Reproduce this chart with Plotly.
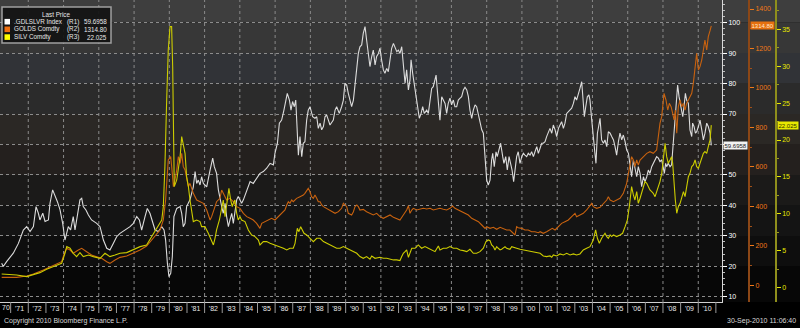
import plotly.graph_objects as go
import pandas as pd

# ---------------- data ----------------
SERIES_NAMES = [".GDLSLVR Index", "GOLDS Comdty", "SILV Comdty"]
SERIES_AXES = ["(R1)", "(R2)", "(R3)"]
LAST_PRICES = ["59.6958", "1314.80", "22.025"]
LEGEND_TITLE = "Last Price"

# (decimal year, value)
RATIO = [
    (1970.49, 21.0), (1970.58, 19.9), (1970.77, 21.5), (1971.15, 24.3), (1971.44, 27.5), (1971.72, 31.9), (1971.91, 33.0),
    (1972.10, 31.4), (1972.29, 33.0), (1972.44, 39.6), (1972.57, 37.4), (1972.66, 35.2), (1972.82, 37.4), (1972.95, 34.7),
    (1973.14, 35.2), (1973.23, 40.7), (1973.38, 45.1), (1973.51, 43.4), (1973.65, 41.2), (1973.80, 38.5), (1973.95, 34.1),
    (1974.08, 28.6), (1974.18, 30.8), (1974.27, 33.0), (1974.40, 31.9), (1974.55, 36.3), (1974.65, 31.9), (1974.78, 36.3), (1974.93, 41.8),
    (1975.03, 42.3), (1975.12, 39.6), (1975.27, 38.5), (1975.41, 36.8), (1975.59, 35.2), (1975.88, 34.1),
    (1976.07, 33.0), (1976.26, 28.6), (1976.45, 25.9), (1976.63, 25.3), (1976.82, 27.5),
    (1977.01, 29.7), (1977.20, 30.8), (1977.49, 31.9), (1977.77, 33.0), (1977.96, 34.1),
    (1978.15, 36.3), (1978.30, 35.2), (1978.43, 31.9), (1978.62, 36.3), (1978.75, 39.0), (1978.90, 37.4),
    (1979.05, 34.1), (1979.19, 31.9), (1979.38, 31.4), (1979.57, 33.0), (1979.70, 31.9), (1979.79, 28.6), (1979.89, 21.0), (1979.98, 16.6),
    (1980.08, 17.7), (1980.17, 23.2), (1980.26, 36.3), (1980.42, 39.0), (1980.61, 39.6), (1980.70, 37.4), (1980.79, 33.0), (1980.89, 34.1), (1980.98, 39.6),
    (1981.17, 41.8), (1981.36, 46.1), (1981.46, 51.1), (1981.55, 47.2), (1981.64, 48.3), (1981.74, 46.7), (1981.83, 49.4), (1981.93, 47.2),
    (1982.12, 46.1), (1982.31, 51.6), (1982.46, 55.5), (1982.55, 52.7), (1982.68, 50.5), (1982.78, 45.1), (1982.87, 41.8), (1982.97, 39.6),
    (1983.06, 37.4), (1983.16, 40.7), (1983.25, 36.3), (1983.35, 33.0), (1983.44, 35.2), (1983.54, 37.4), (1983.63, 34.1), (1983.72, 37.4), (1983.82, 41.8), (1983.91, 42.9),
    (1984.01, 41.8), (1984.10, 40.7), (1984.20, 41.8), (1984.39, 45.1), (1984.58, 47.8), (1984.76, 47.2), (1984.95, 48.9),
    (1985.14, 50.5), (1985.33, 51.1), (1985.52, 52.2), (1985.71, 53.8), (1985.90, 53.3), (1985.99, 57.1),
    (1986.13, 60.4), (1986.24, 67.0), (1986.37, 68.0), (1986.50, 71.3), (1986.62, 74.6), (1986.69, 76.8), (1986.81, 74.6), (1986.90, 71.3), (1986.99, 74.1),
    (1987.09, 72.4), (1987.17, 74.6), (1987.26, 63.7), (1987.32, 56.5), (1987.41, 62.6), (1987.51, 56.0), (1987.60, 60.4), (1987.69, 60.9), (1987.79, 68.0), (1987.88, 71.3), (1987.98, 72.4),
    (1988.13, 69.1), (1988.26, 68.6), (1988.36, 69.1), (1988.45, 65.3), (1988.55, 67.0), (1988.64, 64.8), (1988.74, 65.9), (1988.83, 69.1), (1988.92, 69.7),
    (1989.02, 68.0), (1989.11, 66.4), (1989.30, 68.0), (1989.40, 71.3), (1989.49, 72.4), (1989.64, 70.2), (1989.77, 72.4), (1989.87, 74.6), (1989.96, 80.1),
    (1990.06, 79.5), (1990.15, 76.8), (1990.25, 74.6), (1990.34, 72.4), (1990.44, 74.6), (1990.53, 80.1), (1990.63, 85.6), (1990.72, 89.9), (1990.81, 92.1), (1990.91, 92.7),
    (1991.00, 96.5), (1991.10, 98.7), (1991.19, 94.3), (1991.29, 89.9), (1991.38, 85.6), (1991.48, 88.9), (1991.57, 91.0), (1991.67, 86.1), (1991.76, 88.9), (1991.86, 89.9), (1991.95, 91.6),
    (1992.04, 87.8), (1992.14, 84.5), (1992.23, 83.4), (1992.33, 85.0), (1992.42, 83.9), (1992.52, 88.9), (1992.61, 91.6), (1992.71, 93.2), (1992.80, 92.1), (1992.90, 90.5), (1992.99, 91.0),
    (1993.08, 89.9), (1993.18, 92.1), (1993.27, 85.6), (1993.37, 80.1), (1993.46, 84.5), (1993.56, 77.9), (1993.65, 81.2), (1993.71, 87.8), (1993.80, 83.4), (1993.88, 80.1), (1993.97, 75.7),
    (1994.07, 72.4), (1994.18, 68.6), (1994.28, 70.2), (1994.37, 72.4), (1994.46, 70.2), (1994.60, 71.3), (1994.69, 70.2), (1994.79, 75.7), (1994.88, 78.4), (1994.97, 79.0),
    (1995.07, 81.2), (1995.13, 82.8), (1995.20, 77.9), (1995.28, 72.4), (1995.35, 68.0), (1995.45, 75.7), (1995.54, 74.6), (1995.64, 73.5), (1995.73, 70.2), (1995.82, 73.5), (1995.92, 75.2),
    (1996.01, 73.0), (1996.11, 74.6), (1996.20, 72.4), (1996.30, 72.4), (1996.39, 74.6), (1996.49, 75.2), (1996.58, 75.7), (1996.68, 77.9), (1996.77, 78.8), (1996.87, 77.9), (1996.96, 75.7),
    (1997.05, 71.3), (1997.15, 68.6), (1997.24, 71.3), (1997.34, 73.0), (1997.43, 72.4), (1997.53, 69.7), (1997.62, 68.0), (1997.72, 64.8), (1997.81, 63.7), (1997.91, 56.0),
    (1998.00, 48.3), (1998.09, 46.7), (1998.19, 48.3), (1998.28, 54.9), (1998.34, 57.1), (1998.43, 52.7), (1998.53, 57.6), (1998.60, 56.0), (1998.72, 59.3), (1998.79, 60.4), (1998.91, 56.0), (1998.98, 53.8),
    (1999.08, 56.0), (1999.17, 51.6), (1999.27, 56.0), (1999.36, 53.8), (1999.44, 51.6), (1999.53, 47.8), (1999.61, 51.6), (1999.70, 56.0), (1999.79, 57.6), (1999.89, 53.8), (1999.99, 56.0),
    (2000.08, 57.1), (2000.17, 56.5), (2000.27, 56.0), (2000.36, 57.1), (2000.46, 56.5), (2000.55, 57.6), (2000.65, 56.0), (2000.74, 57.6), (2000.84, 59.3), (2000.93, 57.1),
    (2001.03, 59.3), (2001.12, 60.4), (2001.21, 60.4), (2001.31, 60.9), (2001.40, 62.6), (2001.50, 64.2), (2001.59, 65.3), (2001.69, 63.7), (2001.78, 66.4), (2001.88, 64.8), (2001.97, 62.6),
    (2002.07, 65.3), (2002.16, 66.4), (2002.25, 67.5), (2002.35, 65.3), (2002.44, 67.0), (2002.54, 70.2), (2002.63, 70.8), (2002.73, 71.3), (2002.82, 71.9), (2002.92, 73.5),
    (2003.01, 75.7), (2003.10, 74.6), (2003.20, 76.3), (2003.29, 78.4), (2003.39, 80.6), (2003.48, 74.6), (2003.54, 69.1), (2003.62, 72.4), (2003.71, 75.7), (2003.80, 76.3), (2003.86, 74.6), (2003.96, 68.0),
    (2004.05, 61.5), (2004.14, 57.1), (2004.20, 53.8), (2004.28, 63.7), (2004.35, 65.9), (2004.43, 68.6), (2004.52, 61.5), (2004.62, 60.4), (2004.71, 61.5), (2004.81, 59.3), (2004.90, 64.2),
    (2005.00, 63.7), (2005.09, 62.6), (2005.19, 61.5), (2005.28, 59.3), (2005.37, 56.5), (2005.47, 60.9), (2005.56, 63.7), (2005.66, 61.5), (2005.75, 63.1), (2005.85, 60.9), (2005.94, 58.2),
    (2006.04, 57.1), (2006.13, 53.8), (2006.22, 49.4), (2006.32, 54.9), (2006.41, 52.7), (2006.51, 49.4), (2006.60, 52.7), (2006.70, 50.5), (2006.79, 46.1), (2006.89, 49.4), (2006.98, 47.8),
    (2007.08, 49.4), (2007.17, 51.6), (2007.26, 50.5), (2007.36, 52.7), (2007.45, 53.8), (2007.55, 54.9), (2007.64, 56.0), (2007.74, 55.5), (2007.83, 54.4), (2007.93, 54.9),
    (2008.02, 51.6), (2008.08, 50.5), (2008.15, 53.8), (2008.21, 52.7), (2008.30, 53.8), (2008.40, 52.7), (2008.49, 53.3), (2008.59, 60.4), (2008.68, 68.0), (2008.78, 76.8), (2008.83, 79.5), (2008.91, 75.7), (2008.97, 73.5),
    (2009.06, 71.3), (2009.12, 69.1), (2009.19, 72.4), (2009.27, 76.8), (2009.34, 74.6), (2009.44, 73.5), (2009.53, 64.8), (2009.63, 62.6), (2009.68, 67.0), (2009.76, 65.9), (2009.84, 63.7), (2009.91, 64.2),
    (2010.01, 65.9), (2010.10, 68.0), (2010.20, 64.8), (2010.29, 61.5), (2010.38, 63.7), (2010.48, 67.0), (2010.57, 65.9), (2010.67, 63.7), (2010.74, 59.6958),
]

GOLD = [
    (1970.49, 40.4), (1971.34, 40.4), (1971.91, 47.1), (1972.29, 57.2), (1972.85, 77.5), (1973.23, 94.4), (1973.61, 111.3), (1973.89, 119.7),
    (1974.08, 170.4), (1974.18, 187.3), (1974.37, 178.9), (1974.55, 162.0), (1974.84, 178.9), (1975.03, 187.3), (1975.31, 170.4), (1975.59, 153.5), (1975.88, 145.1),
    (1976.16, 136.6), (1976.45, 119.7), (1976.63, 111.3), (1976.92, 128.2), (1977.20, 141.7), (1977.58, 148.4), (1977.96, 162.0), (1978.34, 178.9), (1978.71, 199.1),
    (1979.00, 229.5), (1979.28, 263.3), (1979.47, 280.2), (1979.66, 330.9), (1979.79, 432.2), (1979.94, 634.9), (1980.08, 651.8), (1980.17, 567.3), (1980.23, 499.8), (1980.32, 533.5), (1980.42, 584.2), (1980.51, 651.8),
    (1980.61, 618.0), (1980.70, 668.7), (1980.79, 601.1), (1980.89, 584.2), (1980.98, 533.5), (1981.08, 499.8), (1981.17, 516.7), (1981.36, 466.0), (1981.55, 432.2), (1981.74, 423.7), (1981.93, 415.3),
    (1982.12, 381.5), (1982.31, 330.9), (1982.40, 347.8), (1982.50, 381.5), (1982.59, 398.4), (1982.68, 423.7), (1982.87, 440.6), (1982.97, 482.9),
    (1983.06, 466.0), (1983.25, 432.2), (1983.44, 440.6), (1983.63, 423.7), (1983.82, 398.4), (1984.01, 390.0), (1984.20, 364.6), (1984.39, 347.8), (1984.58, 339.3), (1984.76, 330.9), (1984.95, 314.0),
    (1985.14, 288.6), (1985.24, 314.0), (1985.43, 322.4), (1985.61, 330.9), (1985.80, 339.3), (1985.99, 330.9), (1986.18, 347.8), (1986.37, 364.6), (1986.56, 381.5), (1986.66, 406.9), (1986.75, 423.7), (1986.84, 415.3), (1986.94, 432.2),
    (1987.03, 423.7), (1987.22, 440.6), (1987.41, 449.0), (1987.60, 457.5), (1987.69, 466.0), (1987.79, 482.9), (1987.88, 491.3), (1987.98, 474.4),
    (1988.07, 449.0), (1988.17, 440.6), (1988.26, 457.5), (1988.36, 440.6), (1988.45, 423.7), (1988.55, 423.7), (1988.64, 406.9), (1988.74, 398.4), (1988.92, 390.0),
    (1989.11, 381.5), (1989.21, 373.1), (1989.40, 364.6), (1989.59, 373.1), (1989.77, 390.0), (1989.87, 415.3), (1989.96, 406.9),
    (1990.06, 398.4), (1990.15, 364.6), (1990.34, 356.2), (1990.44, 373.1), (1990.53, 398.4), (1990.63, 406.9), (1990.72, 398.4), (1990.81, 381.5),
    (1991.00, 384.9), (1991.19, 373.1), (1991.38, 364.6), (1991.57, 356.2), (1991.76, 364.6), (1991.95, 347.8),
    (1992.14, 339.3), (1992.33, 347.8), (1992.52, 356.2), (1992.71, 344.4), (1992.90, 339.3),
    (1993.08, 330.9), (1993.27, 356.2), (1993.46, 381.5), (1993.56, 403.5), (1993.65, 364.6), (1993.75, 381.5), (1993.84, 390.0),
    (1994.03, 381.5), (1994.22, 384.9), (1994.41, 390.0), (1994.60, 386.6), (1994.79, 390.0), (1994.97, 381.5),
    (1995.16, 384.9), (1995.35, 390.0), (1995.54, 384.9), (1995.73, 381.5), (1995.92, 390.0),
    (1996.07, 401.8), (1996.20, 390.0), (1996.39, 381.5), (1996.58, 373.1), (1996.77, 364.6), (1996.96, 356.2),
    (1997.15, 339.3), (1997.34, 330.9), (1997.53, 322.4), (1997.72, 305.5), (1997.91, 288.6),
    (1998.00, 297.1), (1998.19, 288.6), (1998.38, 293.7), (1998.57, 283.6), (1998.76, 293.7), (1998.95, 288.6),
    (1999.13, 280.2), (1999.32, 280.2), (1999.51, 263.3), (1999.61, 254.9), (1999.70, 297.1), (1999.79, 292.0), (1999.99, 288.6),
    (2000.17, 280.2), (2000.36, 280.2), (2000.55, 271.7), (2000.74, 271.7), (2000.93, 266.7),
    (2001.03, 271.7), (2001.21, 263.3), (2001.40, 271.7), (2001.59, 280.2), (2001.72, 288.6), (2001.88, 280.2),
    (2002.07, 297.1), (2002.25, 314.0), (2002.44, 322.4), (2002.63, 330.9), (2002.82, 347.8),
    (2003.01, 364.6), (2003.10, 347.8), (2003.29, 356.2), (2003.48, 364.6), (2003.67, 381.5), (2003.86, 401.8), (2003.96, 415.3),
    (2004.05, 398.4), (2004.24, 390.0), (2004.43, 395.0), (2004.62, 415.3), (2004.81, 432.2), (2004.90, 449.0),
    (2005.00, 432.2), (2005.19, 423.7), (2005.37, 432.2), (2005.56, 440.6), (2005.75, 466.0), (2005.85, 499.8), (2005.94, 516.7),
    (2006.04, 567.3), (2006.13, 618.0), (2006.22, 651.8), (2006.32, 634.9), (2006.41, 601.1), (2006.51, 634.9), (2006.60, 609.5), (2006.70, 634.9), (2006.79, 643.3), (2006.89, 651.8),
    (2007.08, 668.7), (2007.26, 677.1), (2007.45, 668.7), (2007.64, 685.6), (2007.74, 770.0), (2007.83, 820.7), (2007.93, 854.5),
    (2008.06, 972.7), (2008.17, 938.9), (2008.27, 888.2), (2008.36, 922.0), (2008.46, 905.1), (2008.55, 871.3), (2008.63, 837.6), (2008.70, 888.2), (2008.78, 770.0), (2008.87, 905.1), (2008.97, 938.9),
    (2009.06, 905.1), (2009.16, 922.0), (2009.25, 888.2), (2009.34, 922.0), (2009.44, 938.9), (2009.53, 955.8), (2009.63, 972.7), (2009.72, 1023.4), (2009.82, 1107.8), (2009.91, 1175.4),
    (2010.01, 1090.9), (2010.10, 1107.8), (2010.20, 1141.6), (2010.29, 1192.3), (2010.38, 1242.9), (2010.48, 1192.3), (2010.57, 1259.8), (2010.67, 1290.0), (2010.74, 1314.80),
]

SILVER = [
    (1970.49, 1.86), (1971.34, 1.72), (1971.91, 1.50), (1972.29, 1.72), (1972.66, 2.04), (1973.04, 2.49), (1973.42, 2.85), (1973.89, 3.30),
    (1974.08, 4.66), (1974.18, 5.56), (1974.37, 5.34), (1974.55, 4.66), (1974.74, 4.21), (1974.93, 4.75), (1975.12, 4.21), (1975.41, 4.43), (1975.69, 4.21),
    (1976.07, 3.98), (1976.35, 4.66), (1976.63, 4.21), (1976.92, 4.43), (1977.20, 4.66), (1977.58, 4.75), (1977.96, 5.11), (1978.34, 5.56), (1978.71, 5.79),
    (1979.00, 6.92), (1979.19, 7.59), (1979.38, 8.27), (1979.57, 9.17), (1979.66, 10.98), (1979.75, 16.40), (1979.85, 25.43), (1979.94, 32.2), (1980.04, 35.36), (1980.13, 35.36), (1980.19, 29.94), (1980.23, 16.40), (1980.28, 13.69), (1980.42, 14.59), (1980.51, 16.40),
    (1980.61, 17.75), (1980.70, 20.46), (1980.79, 19.11), (1980.89, 18.20), (1980.98, 15.04), (1981.08, 13.69), (1981.17, 11.88), (1981.27, 10.08), (1981.36, 8.95), (1981.55, 9.17), (1981.74, 8.95), (1981.83, 8.27),
    (1982.02, 8.27), (1982.21, 7.37), (1982.40, 6.46), (1982.50, 5.79), (1982.59, 6.69), (1982.68, 7.82), (1982.84, 9.17), (1982.97, 10.98),
    (1983.06, 11.88), (1983.16, 9.62), (1983.25, 11.43), (1983.38, 13.46), (1983.48, 11.88), (1983.57, 10.98), (1983.63, 11.43), (1983.72, 11.88), (1983.82, 10.08), (1983.91, 9.17),
    (1984.01, 9.62), (1984.10, 9.17), (1984.29, 8.95), (1984.39, 8.27), (1984.48, 7.82), (1984.67, 7.14), (1984.86, 6.92),
    (1985.05, 6.46), (1985.14, 5.79), (1985.33, 6.24), (1985.52, 6.24), (1985.71, 6.01), (1985.99, 5.79),
    (1986.28, 5.56), (1986.47, 5.34), (1986.66, 5.11), (1986.84, 5.34), (1987.03, 5.34), (1987.13, 6.01), (1987.26, 8.04), (1987.35, 7.59), (1987.45, 8.27), (1987.54, 7.82), (1987.64, 7.37), (1987.79, 7.14), (1987.88, 6.92),
    (1988.07, 6.46), (1988.17, 6.24), (1988.36, 6.69), (1988.55, 6.69), (1988.74, 6.24), (1988.92, 6.01),
    (1989.11, 5.79), (1989.30, 5.56), (1989.49, 5.34), (1989.68, 5.34), (1989.87, 5.56),
    (1990.06, 5.34), (1990.25, 5.11), (1990.44, 4.88), (1990.63, 4.66), (1990.81, 4.21),
    (1991.00, 3.98), (1991.19, 4.21), (1991.38, 3.85), (1991.48, 4.30), (1991.67, 3.98), (1991.95, 4.12),
    (1992.14, 3.98), (1992.33, 3.98), (1992.52, 3.85), (1992.71, 3.76), (1992.90, 3.76),
    (1993.08, 3.67), (1993.18, 4.21), (1993.27, 4.66), (1993.37, 4.88), (1993.46, 5.11), (1993.56, 4.12), (1993.65, 4.66), (1993.75, 5.34), (1993.94, 5.34),
    (1994.12, 5.79), (1994.31, 5.34), (1994.50, 5.56), (1994.69, 5.34), (1994.88, 5.11),
    (1995.07, 4.88), (1995.26, 5.65), (1995.35, 5.11), (1995.54, 5.34), (1995.73, 5.34), (1995.92, 5.56),
    (1996.11, 5.34), (1996.30, 5.34), (1996.49, 5.11), (1996.68, 5.02), (1996.87, 4.88),
    (1997.05, 5.20), (1997.24, 4.66), (1997.43, 4.66), (1997.62, 4.88), (1997.81, 5.34), (1997.96, 6.24),
    (1998.09, 6.46), (1998.19, 6.37), (1998.28, 5.79), (1998.38, 5.56), (1998.47, 5.11), (1998.57, 5.56), (1998.66, 5.34), (1998.76, 5.11), (1998.85, 5.20),
    (1999.04, 5.56), (1999.13, 5.34), (1999.32, 5.20), (1999.42, 5.56), (1999.51, 5.47), (1999.70, 5.34), (1999.89, 5.20),
    (2000.08, 5.11), (2000.27, 5.02), (2000.46, 4.88), (2000.65, 4.75), (2000.84, 4.66),
    (2001.03, 4.66), (2001.21, 4.30), (2001.40, 4.21), (2001.59, 4.30), (2001.69, 4.12), (2001.78, 4.43), (2001.97, 4.30),
    (2002.16, 4.57), (2002.35, 4.43), (2002.54, 4.66), (2002.73, 4.43), (2002.92, 4.57),
    (2003.10, 4.43), (2003.29, 4.57), (2003.48, 5.11), (2003.67, 5.34), (2003.86, 5.56),
    (2004.05, 6.46), (2004.18, 7.82), (2004.28, 6.69), (2004.39, 6.01), (2004.52, 6.69), (2004.62, 7.14), (2004.71, 7.37), (2004.81, 6.92), (2004.90, 6.69),
    (2005.00, 7.14), (2005.09, 6.92), (2005.19, 7.14), (2005.37, 6.92), (2005.56, 7.14), (2005.71, 7.37), (2005.85, 8.27), (2005.98, 9.17),
    (2006.09, 10.98), (2006.17, 13.01), (2006.22, 13.69), (2006.32, 12.56), (2006.41, 11.88), (2006.51, 13.01), (2006.60, 11.43), (2006.70, 12.11), (2006.79, 12.79), (2006.89, 13.69), (2006.98, 14.37),
    (2007.08, 14.14), (2007.17, 13.69), (2007.26, 13.24), (2007.36, 13.01), (2007.45, 12.79), (2007.55, 12.33), (2007.64, 13.01), (2007.74, 13.69), (2007.83, 14.37), (2007.93, 15.49),
    (2008.02, 17.30), (2008.12, 19.56), (2008.21, 17.75), (2008.30, 16.85), (2008.40, 17.30), (2008.49, 17.75), (2008.55, 16.85), (2008.63, 13.69), (2008.70, 11.88), (2008.78, 10.08), (2008.87, 10.98), (2008.97, 11.43),
    (2009.06, 12.33), (2009.16, 13.01), (2009.25, 12.33), (2009.34, 13.69), (2009.44, 15.04), (2009.53, 15.49), (2009.63, 16.40), (2009.72, 16.62), (2009.82, 17.30), (2009.91, 16.40),
    (2010.01, 16.17), (2010.10, 16.85), (2010.20, 17.75), (2010.29, 18.20), (2010.38, 18.43), (2010.48, 18.20), (2010.57, 19.11), (2010.67, 20.0), (2010.74, 22.025),
]

YEARS = list(range(1970, 2012))          # x-axis label periods
GRID_YEARS = list(range(1972, 2012, 2))  # vertical grid lines
R1_TICKS = list(range(10, 101, 10))
R1_HIDDEN = [60]                          # label covered by the last-price tag
R2_TICKS = list(range(0, 1401, 200))
R3_TICKS = list(range(0, 36, 5))
X_RANGE = (1970.395, 2011.348)
R1_RANGE = (8.25, 107.46)
R2_RANGE = (-84.6, 1445.6)
R3_RANGE = (-1.94, 38.97)
CUT_FIRST_LABEL = "70"                   # partly visible first year label

# ---------------- helpers ----------------
W, H = 800, 328
PB = 302.0          # plot bottom in px (plot top at 0)
XR = 722.0          # plot right edge in px
FONT = "Liberation Sans"


def to_date(t):
    y = int(t)
    a = pd.Timestamp(year=y, month=1, day=1)
    b = pd.Timestamp(year=y + 1, month=1, day=1)
    return a + (b - a) * (t - y)


def px(x):
    return x / W


def py(y):
    return (PB - y) / PB


C_WHITE = "#dcdcdc"
C_GOLD = "#c8620f"
C_SILV = "#cccc00"

fig = go.Figure()
fig.add_trace(go.Scatter(x=[to_date(t) for t, _ in SILVER], y=[v for _, v in SILVER],
                         yaxis="y3", mode="lines", line=dict(color=C_SILV, width=1.1),
                         name=SERIES_NAMES[2], hoverinfo="skip"))
fig.add_trace(go.Scatter(x=[to_date(t) for t, _ in GOLD], y=[v for _, v in GOLD],
                         yaxis="y2", mode="lines", line=dict(color=C_GOLD, width=1.1),
                         name=SERIES_NAMES[1], hoverinfo="skip"))
fig.add_trace(go.Scatter(x=[to_date(t) for t, _ in RATIO], y=[v for _, v in RATIO],
                         yaxis="y", mode="lines", line=dict(color=C_WHITE, width=1.1),
                         name=SERIES_NAMES[0], hoverinfo="skip"))

shapes = []
# background bands (top light gray -> black)
band_edges = [0, 22.7, 53, 83, 114, 144, 175, 205, 236, 266, 302]
band_cols = ["#3e3e3e", "#373737", "#313337", "#2b2b2b", "#2b2825", "#24201e",
             "#1b1a19", "#141414", "#0e0e0e", "#070707"]
for i, c in enumerate(band_cols):
    shapes.append(dict(type="rect", xref="paper", yref="paper", x0=0, x1=1,
                       y0=py(band_edges[i + 1]), y1=py(band_edges[i]),
                       fillcolor=c, line=dict(width=0), layer="below"))
# vertical dotted grid lines
for yr in GRID_YEARS:
    d = to_date(yr)
    shapes.append(dict(type="line", xref="x", yref="paper", x0=d, x1=d, y0=0, y1=1,
                       line=dict(color="#8a8a8a", width=1, dash="dot"), layer="below"))
# x-axis label separators
for yr in YEARS:
    d = to_date(yr)
    shapes.append(dict(type="line", xref="x", yref="paper", x0=d, x1=d, y0=0, y1=py(313),
                       line=dict(color="#9a9a9a", width=1), layer="above"))
# legend box
shapes.append(dict(type="rect", xref="paper", yref="paper", x0=px(2), x1=px(111),
                   y0=py(43), y1=py(7), fillcolor="rgba(18,18,18,0.92)",
                   line=dict(color="#a0a0a0", width=1.5), layer="above"))
legend_sq = ["#ffffff", "#f07010", "#ffff00"]
rows_y = [21.7, 29.3, 37.1]
for c, ry in zip(legend_sq, rows_y):
    shapes.append(dict(type="rect", xref="paper", yref="paper", x0=px(4.5), x1=px(10),
                       y0=py(ry + 2.8), y1=py(ry - 2.8), fillcolor=c,
                       line=dict(width=0), layer="above"))

LFS = 6.3
ann = []
ann.append(dict(xref="paper", yref="paper", x=px(56), y=py(14), text=LEGEND_TITLE,
                showarrow=False, xanchor="center", yanchor="middle",
                font=dict(family=FONT, size=LFS, color="#e8e8e8")))
for name, ax, val, ry in zip(SERIES_NAMES, SERIES_AXES, LAST_PRICES, rows_y):
    ann.append(dict(xref="paper", yref="paper", x=px(11.5), y=py(ry), text=name,
                    showarrow=False, xanchor="left", yanchor="middle",
                    font=dict(family=FONT, size=LFS, color="#e8e8e8")))
    ann.append(dict(xref="paper", yref="paper", x=px(65), y=py(ry), text=ax,
                    showarrow=False, xanchor="left", yanchor="middle",
                    font=dict(family=FONT, size=LFS, color="#e8e8e8")))
    ann.append(dict(xref="paper", yref="paper", x=px(108.5), y=py(ry), text=val,
                    showarrow=False, xanchor="right", yanchor="middle",
                    font=dict(family=FONT, size=LFS, color="#e8e8e8")))
# last value tags
tag_specs = [
    (LAST_PRICES[0], "y", float(LAST_PRICES[0]), 723, "#f2f2f2", "#222222"),
    (LAST_PRICES[1], "y2", float(LAST_PRICES[1]), 750, "#e5700f", "#ffe8cc"),
    (LAST_PRICES[2], "y3", float(LAST_PRICES[2]), 777, "#e8e800", "#333300"),
]
for txt, yr_, yv, x0, bg, fc in tag_specs:
    ann.append(dict(xref="paper", yref=yr_, x=px(x0), y=yv, text=txt, showarrow=False,
                    xanchor="left", yanchor="middle", bgcolor=bg, borderpad=0.5,
                    font=dict(family=FONT, size=6, color=fc)))
# partly cut first x label
ann.append(dict(xref="paper", yref="paper", x=px(0), y=py(307.5), text=CUT_FIRST_LABEL,
                showarrow=False, xanchor="left", yanchor="middle",
                font=dict(family=FONT, size=7, color="#e8e8e8")))
ann.append(dict(xref="paper", yref="paper", x=px(2), y=py(321), text="Copyright 2010 Bloomberg Finance L.P.",
                showarrow=False, xanchor="left", yanchor="middle",
                font=dict(family=FONT, size=7, color="#d8d8d8")))
ann.append(dict(xref="paper", yref="paper", x=px(798), y=py(321), text="30-Sep-2010 11:06:40",
                showarrow=False, xanchor="right", yanchor="middle",
                font=dict(family=FONT, size=7, color="#d8d8d8")))

tickfont = dict(family=FONT, size=7)
fig.update_layout(
    width=W, height=H,
    margin=dict(l=0, r=0, t=0, b=H - PB),
    paper_bgcolor="#000000",
    plot_bgcolor="rgba(0,0,0,0)",
    showlegend=False,
    shapes=shapes,
    annotations=ann,
    xaxis=dict(
        domain=[0, XR / W], type="date",
        range=[to_date(X_RANGE[0]), to_date(X_RANGE[1])],
        showgrid=False, zeroline=False, showline=True, linecolor="#d0d0d0", linewidth=1,
        ticks="", tick0="1970-01-01", dtick="M12", ticklabelmode="period",
        tickformat="'%y", tickfont=dict(tickfont, color="#e8e8e8"), automargin=False,
    ),
    yaxis=dict(
        range=list(R1_RANGE), side="right", anchor="x",
        tickvals=R1_TICKS, ticktext=["" if v in R1_HIDDEN else str(v) for v in R1_TICKS],
        ticks="outside", ticklen=4, tickcolor="#ffffff",
        showline=True, linecolor="#d8d8d8", linewidth=1,
        showgrid=True, gridcolor="#8c8c8c", griddash="dot", gridwidth=1,
        zeroline=False, tickfont=dict(tickfont, color="#ffffff"), automargin=False,
        minor=dict(dtick=2, ticks="outside", ticklen=2, tickcolor="#bbbbbb", showgrid=False),
    ),
    yaxis2=dict(
        range=list(R2_RANGE), side="right", overlaying="y", anchor="free", position=749 / W,
        tickvals=R2_TICKS, tickformat="d", ticks="outside", ticklen=4, tickcolor="#f07818",
        showline=True, linecolor="#8c4716", linewidth=2, showgrid=False, zeroline=False,
        tickfont=dict(tickfont, color="#f07818"), automargin=False,
        minor=dict(dtick=100, ticks="outside", ticklen=2, tickcolor="#a05018", showgrid=False),
    ),
    yaxis3=dict(
        range=list(R3_RANGE), side="right", overlaying="y", anchor="free", position=776 / W,
        tickvals=R3_TICKS, ticks="outside", ticklen=4, tickcolor="#e8e800",
        showline=True, linecolor="#8f8f1c", linewidth=1.5, showgrid=False, zeroline=False,
        tickfont=dict(tickfont, color="#e8e800"), automargin=False,
        minor=dict(dtick=2.5, ticks="outside", ticklen=2, tickcolor="#9a9a20", showgrid=False),
    ),
)

fig.write_html("out.html")
